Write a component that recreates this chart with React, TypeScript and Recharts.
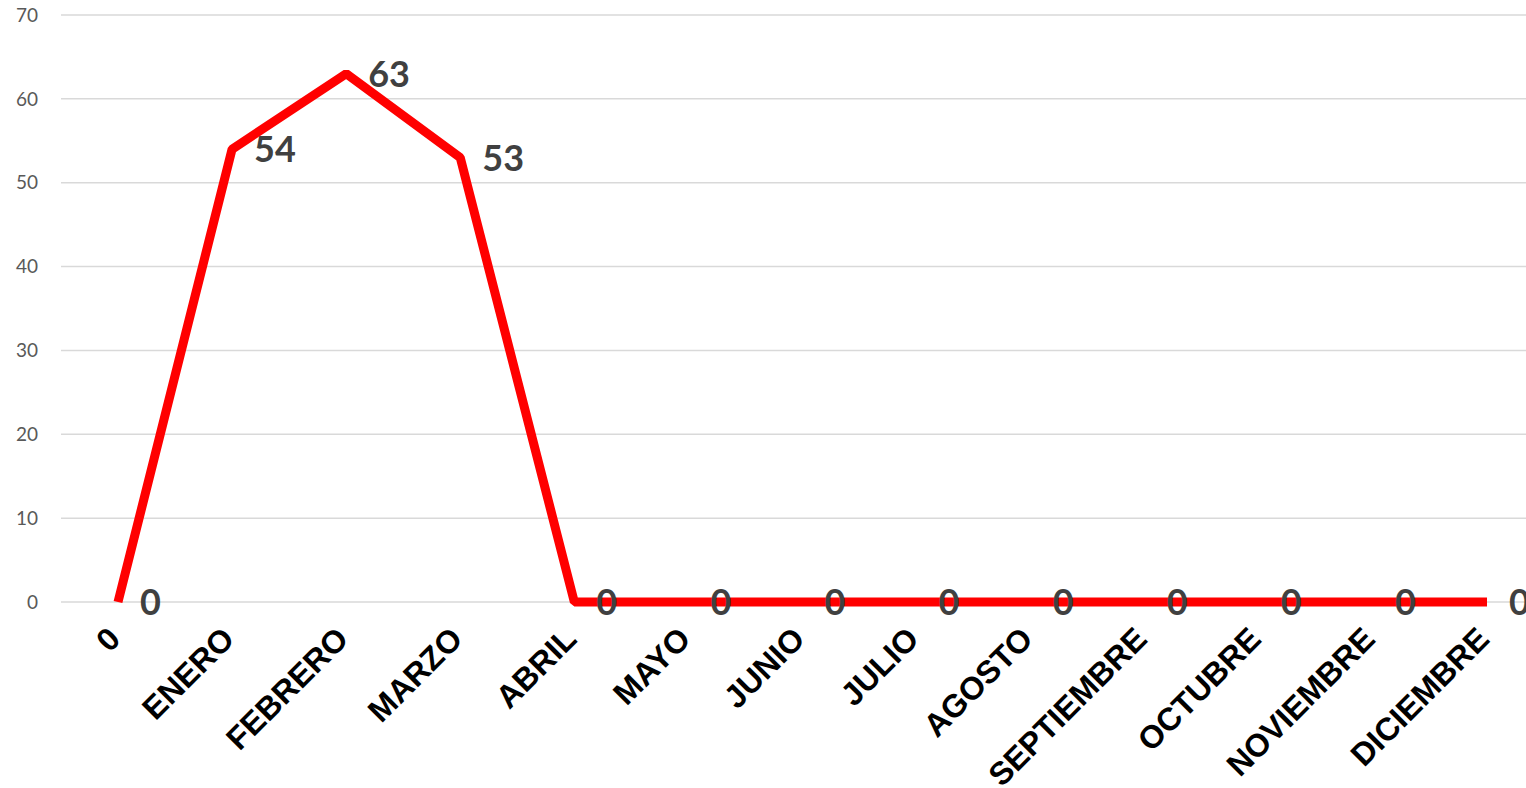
import React from "react";
import { LineChart, Line, XAxis, YAxis, CartesianGrid, LabelList } from "recharts";

const months = [
  "0",
  "ENERO",
  "FEBRERO",
  "MARZO",
  "ABRIL",
  "MAYO",
  "JUNIO",
  "JULIO",
  "AGOSTO",
  "SEPTIEMBRE",
  "OCTUBRE",
  "NOVIEMBRE",
  "DICIEMBRE",
];
const totals = [0, 54, 63, 53, 0, 0, 0, 0, 0, 0, 0, 0, 0];
const yTicks = [0, 10, 20, 30, 40, 50, 60, 70];

const chartData = months.map((mes, i) => ({ mes, total: totals[i] }));

const MonthTick = (props: any) => {
  const { x, y, payload } = props;
  return (
    <g transform={`translate(${x + 4},${y + 31})`}>
      <text
        transform="rotate(-45)"
        textAnchor="end"
        style={{ fontFamily: "'Liberation Sans', Arial, sans-serif", fontWeight: 700 }}
        fontSize={32}
        fill="#000"
      >
        {payload.value}
      </text>
    </g>
  );
};

const ValueLabel = (props: any) => {
  const { x, y, value } = props;
  return (
    <text
      x={x + 22}
      y={y + 13}
      style={{ fontFamily: "Lato, 'Open Sans', sans-serif", fontWeight: 700 }}
      fontSize={36}
      fill="#404040"
    >
      {value}
    </text>
  );
};

export default function App() {
  return (
    <div
      style={{
        position: "fixed",
        left: 0,
        top: 0,
        width: 1526,
        height: 788,
        overflow: "hidden",
        background: "#fff",
      }}
    >
      <LineChart
        width={1560}
        height={788}
        data={chartData}
        margin={{ top: 15, right: 16, left: 0, bottom: 0 }}
      >
        <CartesianGrid vertical={false} stroke="#d9d9d9" strokeWidth={1.5} />
        <XAxis
          dataKey="mes"
          interval={0}
          height={186}
          padding={{ left: 57, right: 57 }}
          axisLine={false}
          tickLine={false}
          tick={<MonthTick />}
        />
        <YAxis
          width={61}
          domain={[0, 70]}
          ticks={yTicks}
          axisLine={false}
          tickLine={false}
          tickSize={0}
          tickMargin={23}
          tick={{ fontFamily: "Lato, sans-serif", fontSize: 19, fill: "#595959" }}
        />
        <Line
          type="linear"
          dataKey="total"
          stroke="#ff0000"
          strokeWidth={9}
          strokeLinejoin="bevel"
          dot={false}
          isAnimationActive={false}
        >
          <LabelList dataKey="total" content={<ValueLabel />} />
        </Line>
      </LineChart>
    </div>
  );
}
